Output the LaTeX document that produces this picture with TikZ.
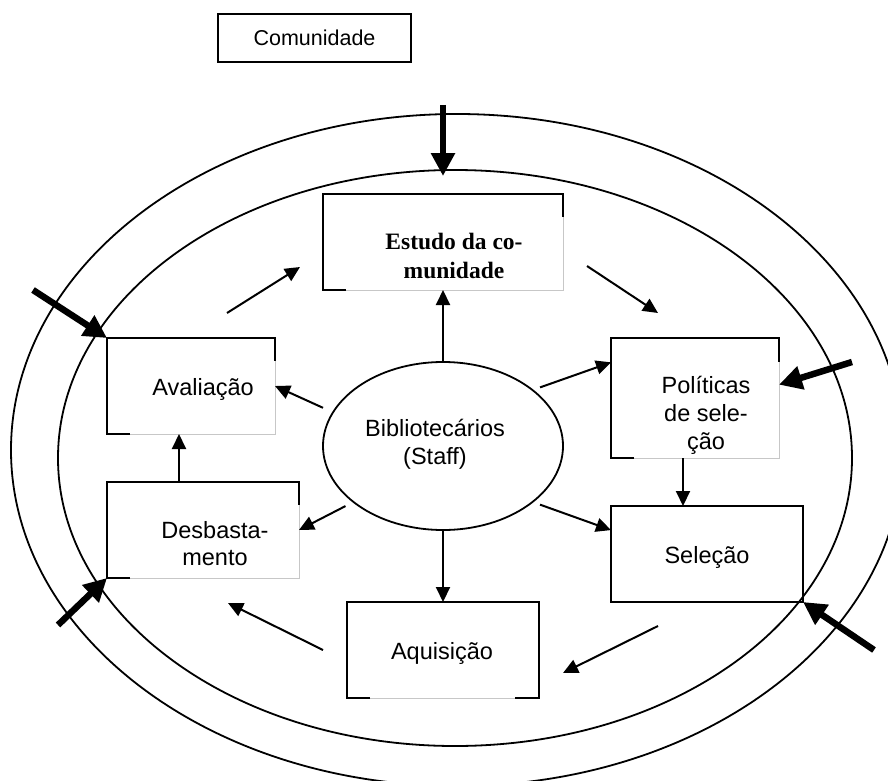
\documentclass[tikz,border=0pt]{standalone}
\usepackage{fontspec}
\setmainfont{Liberation Sans}
\newfontfamily\timesfam{Liberation Serif}
\usetikzlibrary{arrows.meta,shapes.geometric}
\begin{document}
\begin{tikzpicture}[x=1pt,y=-1pt,
  boxdark/.style={line width=2pt, line join=miter},
  frame/.style={draw=black!22, line width=0.8pt, inner sep=0pt, outer sep=0pt},
  fullbox/.style={draw, line width=2pt, inner sep=0pt, outer sep=0pt},
  lbl/.style={font=\fontsize{23.5}{28}\selectfont, align=center, anchor=base, inner sep=0pt},
  thinarr/.style={line width=2pt, -{Triangle[length=15pt,width=14pt]}},
  thickarr/.style={line width=6.5pt, -{Triangle[length=23pt,width=23pt]}},
  ring/.style={line width=1.8pt}
]
\useasboundingbox (0,0) rectangle (888,781);
\clip (0,0) rectangle (888,781);

% rings
\draw[ring] (457,450) ellipse [x radius=446pt, y radius=336pt];
\draw[ring] (455,458) ellipse [x radius=397pt, y radius=288pt];

% title box
\node[fullbox, minimum width=193pt, minimum height=48pt, font=\fontsize{21.5}{26}\selectfont] (com) at (314.5,38) {Comunidade};

% boxes
\node[frame, minimum width=240pt, minimum height=96pt] (estudo) at (443,242) {};
\node[frame, minimum width=168pt, minimum height=96pt] (aval) at (191,386) {};
\node[frame, minimum width=168pt, minimum height=120pt] (pol) at (695,398) {};
\node[frame, minimum width=192pt, minimum height=96pt] (desb) at (203,530) {};
\node[fullbox, minimum width=192pt, minimum height=96pt] (sel) at (707,554) {};
\node[frame, minimum width=192pt, minimum height=96pt] (aquis) at (443,650) {};
\node[draw, ellipse, line width=1.8pt, inner sep=0pt, outer sep=0pt, minimum width=240pt, minimum height=168pt] (staff) at (443,446) {};

% dark parts of box borders
\draw[boxdark] ([xshift=23pt]estudo.south west) -- (estudo.south west) -- (estudo.north west) -- (estudo.north east) -- ([yshift=-23pt]estudo.north east);
\draw[boxdark] ([xshift=23pt]aval.south west) -- (aval.south west) -- (aval.north west) -- (aval.north east) -- ([yshift=-23pt]aval.north east);
\draw[boxdark] ([xshift=23pt]pol.south west) -- (pol.south west) -- (pol.north west) -- (pol.north east) -- ([yshift=-24pt]pol.north east);
\draw[boxdark] ([xshift=23pt]desb.south west) -- (desb.south west) -- (desb.north west) -- (desb.north east) -- ([yshift=-23pt]desb.north east);
\draw[boxdark] ([xshift=23pt]aquis.south west) -- (aquis.south west) -- (aquis.north west) -- (aquis.north east) -- (aquis.south east) -- ([xshift=-24pt]aquis.south east);

% labels (base anchor = baseline of last line)
\node[lbl, font=\timesfam\bfseries\fontsize{23.5}{29}\selectfont] (estudolbl) at (454,278) {Estudo da co-\\munidade};
\node[lbl] (avallbl) at (203,395) {Avaliação};
\node[lbl] (pollbl) at (706,449) {Políticas\\de sele-\\ção};
\node[lbl, font=\fontsize{23.5}{27}\selectfont] (desblbl) at (215,565) {Desbasta-\\mento};
\node[lbl] (sellbl) at (707,563) {Seleção};
\node[lbl] (aquislbl) at (442,659) {Aquisição};
\node[lbl] (stafflbl) at (435,464) {Bibliotecários\\(Staff)};

% arrows from staff
\draw[thinarr] (staff.north) -- (estudo.south);
\draw[thinarr, shorten <=11pt] (staff.163) -- (aval.east);
\draw[thinarr, shorten <=8pt] (staff.32) -- (pol.157);
\draw[thinarr, shorten <=9pt] (staff.212) -- (desb.east);
\draw[thinarr, shorten <=8pt] (staff.-32) -- (sel.166);
\draw[thinarr] (staff.south) -- (aquis.north);
\draw[thinarr] ([xshift=-12pt]pol.south) -- ([xshift=-12pt]pol.south |- sel.north);
\draw[thinarr] ([xshift=-24pt]desb.north) -- ([xshift=-24pt]desb.north |- aval.south);

% cycle arrows
\coordinate (a1) at (227,313); \coordinate (a2) at (300,267);
\coordinate (b1) at (587,266); \coordinate (b2) at (658,313);
\coordinate (c1) at (658,626); \coordinate (c2) at (563,673);
\coordinate (d1) at (323,650); \coordinate (d2) at (228,603);
\draw[thinarr] (a1) -- (a2);
\draw[thinarr] (b1) -- (b2);
\draw[thinarr] (c1) -- (c2);
\draw[thinarr] (d1) -- (d2);

% thick community arrows
\coordinate (t1s) at (443,105); \coordinate (t1e) at (443,176);
\coordinate (t2s) at (33,290);
\coordinate (t3s) at (852,362);
\coordinate (t4s) at (58,625);
\coordinate (t5s) at (874,650);
\draw[thickarr] (t1s) -- (t1e);
\draw[thickarr] (t2s) -- (aval.north west);
\draw[thickarr] (t3s) -- (pol.9);
\draw[thickarr] (t4s) -- (desb.south west);
\draw[thickarr] (t5s) -- (sel.south east);
\end{tikzpicture}
\end{document}
